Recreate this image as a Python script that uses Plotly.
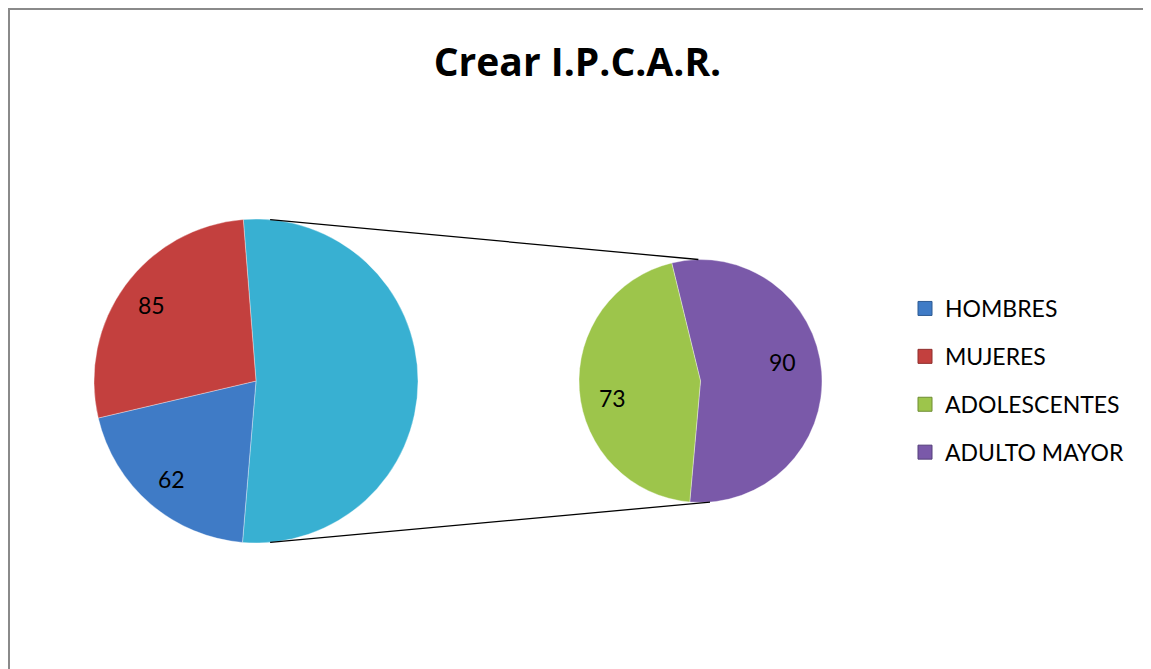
import numpy as np
import plotly.graph_objects as go

W, H = 1151, 669
OFF = 8  # page body margin added by the browser around the figure

# ---- data ----
title_text = "Crear I.P.C.A.R."
main_labels = ["Otros", "HOMBRES", "MUJERES"]
sec_labels = ["ADULTO MAYOR", "ADOLESCENTES"]
sec_values = [90, 73]
main_known = [62, 85]
main_values = [sum(sec_values)] + main_known
legend_order = ["HOMBRES", "MUJERES", "ADOLESCENTES", "ADULTO MAYOR"]

colors = {
    "Otros": "#38B0D2",
    "HOMBRES": "#3F7BC6",
    "MUJERES": "#C3403E",
    "ADOLESCENTES": "#9DC54B",
    "ADULTO MAYOR": "#7A59A9",
}
edge = {
    "HOMBRES": "#2D5A92",
    "MUJERES": "#8E2E2C",
    "ADOLESCENTES": "#6E8C33",
    "ADULTO MAYOR": "#55407A",
}

# ---- geometry (page pixels) ----
m_cx, m_cy, m_r = 256, 381, 162
s_cx, s_cy, s_r = 700.5, 381, 121.5
m_rot, s_rot = -4.5, -13.7
m_lab_r = [0.8, 0.8]
s_lab_r = [0.69, 0.74]
s_lab_shift = [-8.7, -6.6]
FONT = "Lato, 'Open Sans', sans-serif"
TFONT = "'Open Sans', Lato, sans-serif"

FW, FH = W - OFF, H - OFF


def px_x(x):
    return (x - OFF) / FW


def px_y(y):
    return 1 - (y - OFF) / FH


def dom(cx, cy, r):
    return dict(x=[px_x(cx - r), px_x(cx + r)], y=[px_y(cy + r), px_y(cy - r)])


def pt(cx, cy, r, ang):
    a = np.radians(ang)
    return cx + r * np.sin(a), cy - r * np.cos(a)


def mids(values, rot):
    tot = sum(values)
    out, cur = [], rot
    for v in values:
        span = 360 * v / tot
        out.append(cur + span / 2)
        cur += span
    return out


fig = go.Figure()

fig.add_trace(go.Pie(
    labels=main_labels, values=main_values, sort=False, direction="clockwise",
    rotation=m_rot, domain=dom(m_cx, m_cy, m_r), textinfo="none", hoverinfo="label+value",
    marker=dict(colors=[colors[l] for l in main_labels], line=dict(color="rgba(255,255,255,0.35)", width=1)),
    showlegend=False,
))
fig.add_trace(go.Pie(
    labels=sec_labels, values=sec_values, sort=False, direction="clockwise",
    rotation=s_rot, domain=dom(s_cx, s_cy, s_r), textinfo="none", hoverinfo="label+value",
    marker=dict(colors=[colors[l] for l in sec_labels], line=dict(color="rgba(255,255,255,0.35)", width=1)),
    showlegend=False,
))

for name in legend_order:
    fig.add_trace(go.Scatter(
        x=[None], y=[None], mode="markers", name=name, legendgroup=name,
        marker=dict(symbol="square", size=14, color=colors[name], line=dict(color=edge[name], width=1)),
        hoverinfo="skip",
    ))

annotations = []
lab_font = dict(family=FONT, size=23, color="black")
for (lab, val, ang), rf in zip([t for t in zip(main_labels, main_values, mids(main_values, m_rot)) if t[0] != "Otros"], m_lab_r):
    x, y = pt(m_cx, m_cy, m_r * rf, ang)
    annotations.append(dict(x=px_x(x), y=px_y(y), xref="paper", yref="paper", text=str(val),
                            xanchor="center", yanchor="middle", showarrow=False, font=lab_font))
for lab, val, ang, rf, sh in zip(sec_labels, sec_values, mids(sec_values, s_rot), s_lab_r, s_lab_shift):
    x, y = pt(s_cx, s_cy, s_r * rf, ang + sh)
    annotations.append(dict(x=px_x(x), y=px_y(y), xref="paper", yref="paper", text=str(val),
                            xanchor="center", yanchor="middle", showarrow=False, font=lab_font))

# connector lines
shapes = []
for a_main, a_sec in [(5, -1), (175, 175.5)]:
    x0, y0 = pt(m_cx, m_cy, m_r, a_main)
    x1, y1 = pt(s_cx, s_cy, s_r, a_sec)
    shapes.append(dict(type="line", xref="paper", yref="paper", x0=px_x(x0), y0=px_y(y0),
                       x1=px_x(x1), y1=px_y(y1), line=dict(color="black", width=1.3)))
# chart frame
shapes.append(dict(type="rect", xref="paper", yref="paper", x0=px_x(9), y0=px_y(700),
                   x1=px_x(1148.5), y1=px_y(9), line=dict(color="#8a8a8a", width=2)))

fig.update_layout(
    width=FW, height=FH,
    margin=dict(l=0, r=0, t=0, b=0),
    paper_bgcolor="white", plot_bgcolor="white",
    title=dict(text="<b>" + title_text + "</b>", x=px_x(577.5), xanchor="center", y=px_y(62),
               yanchor="middle", yref="container", font=dict(family=TFONT, size=39, color="black")),
    xaxis=dict(visible=False), yaxis=dict(visible=False),
    legend=dict(x=px_x(905), y=px_y(287), xanchor="left", yanchor="top",
                font=dict(family=FONT, size=23, color="black"), tracegroupgap=15,
                bgcolor="rgba(0,0,0,0)", itemclick=False, itemdoubleclick=False),
    annotations=annotations, shapes=shapes,
)

fig.write_html("out.html")
